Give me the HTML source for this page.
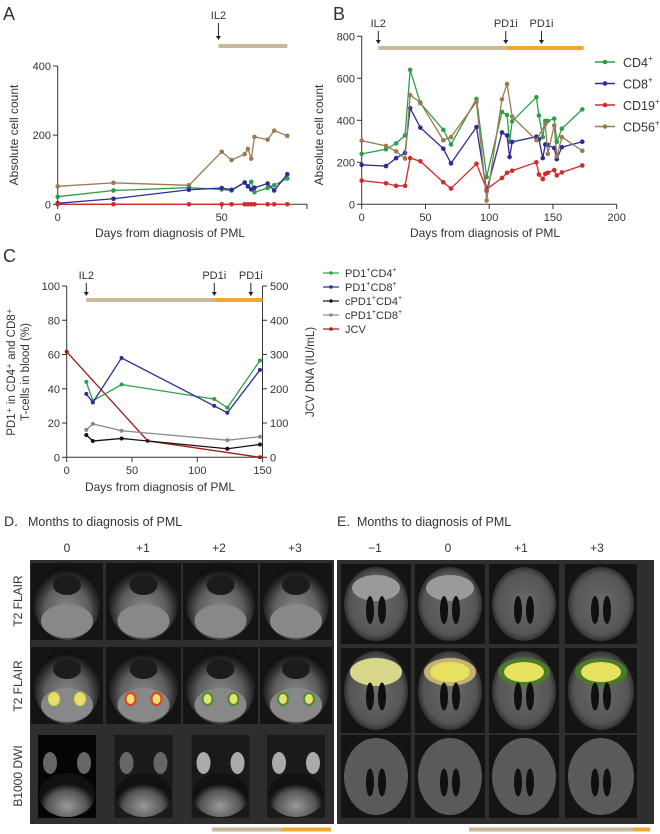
<!DOCTYPE html>
<html><head><meta charset="utf-8"><style>
body{margin:0;background:#fff;}
svg{display:block;font-family:"Liberation Sans",sans-serif;}
text{fill:#333;}
</style></head><body>
<svg id="fig" width="660" height="834" viewBox="0 0 660 834" xmlns="http://www.w3.org/2000/svg">
<defs>
<radialGradient id="brainAx" cx="50%" cy="60%" r="55%"><stop offset="0" stop-color="#8a8a8a"/><stop offset="0.6" stop-color="#5e5e5e"/><stop offset="0.85" stop-color="#2a2a2a"/><stop offset="1" stop-color="#111"/></radialGradient>
<radialGradient id="brainCor" cx="50%" cy="50%" r="55%"><stop offset="0" stop-color="#6a6a6a"/><stop offset="0.75" stop-color="#555"/><stop offset="0.9" stop-color="#333"/><stop offset="1" stop-color="#111"/></radialGradient>
<radialGradient id="dwi" cx="50%" cy="75%" r="50%"><stop offset="0" stop-color="#999"/><stop offset="0.7" stop-color="#555"/><stop offset="1" stop-color="#111"/></radialGradient>
</defs>
<g id="chartA"></g>
<g id="chartB"></g>
<g id="chartC"></g>
<g id="mri"></g>
</svg>
<script>
// ---------- Panel A data ----------
const aDays = [0,17,40,50,53,57,58,59,60,64,66,70];
const aCD4  = [22,40,48,43,40,63,52,65,35,47,55,75];
const aCD8  = [3,16,42,47,42,63,52,43,48,60,40,87];
const aCD19 = [0,0,0,0,0,0,0,0,0,0,0,0];
const aCD56 = [52,62,55,152,128,145,160,132,195,187,213,198];
const aYTicks = [0,200,400];
const aXTicks = [0,50];
// ---------- Panel B data ----------
const bDays = [0,19,27,34,38,46,64,70,90,98,110,114,116,118,137,139,142,144,146,151,153,157,173];
const bCD4  = [240,262,290,328,640,482,355,285,502,130,440,425,298,395,510,423,320,397,397,408,298,360,452];
const bCD8  = [188,182,220,245,458,365,265,195,368,65,342,328,225,297,322,310,220,285,282,268,215,272,298];
const bDays19 = [0,19,27,34,38,46,64,70,90,98,110,114,118,137,139,142,144,146,151,153,157,173];
const bCD19 = [113,100,88,88,220,205,105,75,193,72,125,150,160,200,142,120,145,150,163,138,152,185];
const bDays56 = [0,19,27,34,38,46,64,70,90,98,110,114,118,137,144,146,151,153,157,173];
const bCD56 = [303,278,252,218,520,485,305,320,488,18,500,573,418,305,382,240,375,228,320,255];
const bYTicks = [0,200,400,600,800];
const bXTicks = [0,50,100,150,200];
const bLegend = ["CD4","CD8","CD19","CD56"];
// ---------- Panel C data ----------
const cDays = [15,20,42,113,123,148];
const cPD1CD4 = [44,33,42.5,34,29,56.5];
const cPD1CD8 = [37,32,58,30,26,51];
const cDaysC = [15,20,42,123,148];
const cCPD1CD4 = [13,9.5,11,5,7.5];
const cCPD1CD8 = [16,19.5,15.5,10,12];
const cJcvDays = [0,62,148];
const cJcv = [308,48,0];
const cYTicks = [0,20,40,60,80,100];
const cY2Ticks = [0,100,200,300,400,500];
const cXTicks = [0,50,100,150];

const NS="http://www.w3.org/2000/svg";
function mk(parent,tag,attrs,txt){const e=document.createElementNS(NS,tag);for(const k in attrs)e.setAttribute(k,attrs[k]);if(txt!==undefined)e.textContent=txt;parent.appendChild(e);return e;}
const COL={g:"#2e9e48",b:"#2c2c9a",r:"#d42a2a",br:"#9a7a52",tan:"#c7b99a",or:"#f0a830",k:"#111",gr:"#8a8a8a",jc:"#a01818"};

function series(g,xs,ys,sx,sy,color,name,r){
  const pts=xs.map((d,i)=>sx(d)+","+sy(ys[i])).join(" ");
  const pl=mk(g,"polyline",{points:pts,fill:"none",stroke:color,"stroke-width":1.3});
  
  
  xs.forEach((d,i)=>{
    const c=mk(g,"circle",{cx:sx(d),cy:sy(ys[i]),r:r||2.3,fill:color});
    
    
  });
}
function arrowLabel(g,x,yText,yTip,label){
  const t=mk(g,"text",{x:x,y:yText,"font-size":11,"text-anchor":"middle"},label);
  
  
  mk(g,"line",{x1:x,y1:yText+4,x2:x,y2:yTip-3,stroke:"#222","stroke-width":1});
  mk(g,"path",{d:`M${x-2.5},${yTip-4} L${x+2.5},${yTip-4} L${x},${yTip} Z`,fill:"#222"});
}
function bar(g,x1,x2,y,color,name){
  const r=mk(g,"rect",{x:x1,y:y-2,width:x2-x1,height:4,fill:color});
  
  
}

// ---------- Panel A ----------
(function(){
  const g=document.getElementById("chartA");
  const sx=d=>57.7+d*3.28, sy=v=>204.3-v*0.3458;
  mk(g,"text",{x:3,y:20,"font-size":18},"A");
  mk(g,"line",{x1:57.7,y1:66,x2:57.7,y2:204.3,stroke:"#333"});
  mk(g,"line",{x1:57.7,y1:204.3,x2:307,y2:204.3,stroke:"#333"});
  mk(g,"line",{x1:307,y1:204.3,x2:307,y2:209,stroke:"#333"});
  aYTicks.forEach(v=>{mk(g,"line",{x1:53,y1:sy(v),x2:57.7,y2:sy(v),stroke:"#333"});
    const t=mk(g,"text",{x:51,y:sy(v)+4,"font-size":11,"text-anchor":"end"},v);});
  aXTicks.forEach(v=>{mk(g,"line",{x1:sx(v),y1:204.3,x2:sx(v),y2:209,stroke:"#333"});
    const t=mk(g,"text",{x:sx(v),y:221,"font-size":11,"text-anchor":"middle"},v);});
  const yl=mk(g,"text",{x:0,y:0,"font-size":12,"text-anchor":"middle",transform:"translate(18,135) rotate(-90)"},"Absolute cell count");
  
  const xl=mk(g,"text",{x:170,y:237,"font-size":12,"text-anchor":"middle"},"Days from diagnosis of PML");
  
  bar(g,sx(49),sx(70),46,COL.tan,"il2-bar");
  arrowLabel(g,sx(49),19,40,"IL2");
  series(g,aDays,aCD56,sx,sy,COL.br,"cd56");
  series(g,aDays,aCD4,sx,sy,COL.g,"cd4");
  series(g,aDays,aCD8,sx,sy,COL.b,"cd8");
  series(g,aDays,aCD19,sx,sy,COL.r,"cd19");
})();

// ---------- Panel B ----------
(function(){
  const g=document.getElementById("chartB");
  const sx=d=>361.7+d*1.275, sy=v=>204.3-v*0.21;
  mk(g,"text",{x:333,y:20,"font-size":18},"B");
  mk(g,"line",{x1:361.7,y1:36,x2:361.7,y2:204.3,stroke:"#333"});
  mk(g,"line",{x1:361.7,y1:204.3,x2:sx(200),y2:204.3,stroke:"#333"});
  bYTicks.forEach(v=>{mk(g,"line",{x1:357,y1:sy(v),x2:361.7,y2:sy(v),stroke:"#333"});
    const t=mk(g,"text",{x:355,y:sy(v)+4,"font-size":11,"text-anchor":"end"},v);});
  bXTicks.forEach(v=>{mk(g,"line",{x1:sx(v),y1:204.3,x2:sx(v),y2:209,stroke:"#333"});
    const t=mk(g,"text",{x:sx(v),y:221,"font-size":11,"text-anchor":"middle"},v);});
  const yl=mk(g,"text",{x:0,y:0,"font-size":12,"text-anchor":"middle",transform:"translate(323,135) rotate(-90)"},"Absolute cell count");
  
  const xl=mk(g,"text",{x:485,y:221+16,"font-size":12,"text-anchor":"middle"},"Days from diagnosis of PML");
  
  bar(g,sx(13),sx(113),48,COL.tan,"il2-bar");
  bar(g,sx(113),sx(174),48,COL.or,"pd1i-bar");
  arrowLabel(g,sx(13),27,44,"IL2");
  arrowLabel(g,sx(113),27,44,"PD1i");
  arrowLabel(g,sx(141),27,44,"PD1i");
  series(g,bDays,bCD4,sx,sy,COL.g,"cd4");
  series(g,bDays,bCD8,sx,sy,COL.b,"cd8");
  series(g,bDays19,bCD19,sx,sy,COL.r,"cd19");
  series(g,bDays56,bCD56,sx,sy,COL.br,"cd56");
  const lc=[COL.g,COL.b,COL.r,COL.br];
  bLegend.forEach((n,i)=>{
    const y=62+i*21.5;
    const lg=mk(g,"g",{});
    
    
    mk(lg,"line",{x1:595,y1:y,x2:615,y2:y,stroke:lc[i],"stroke-width":1.5});
    mk(lg,"circle",{cx:605,cy:y,r:2.3,fill:lc[i]});
    const t=mk(lg,"text",{x:623,y:y+5,"font-size":12.5},n);
    mk(t,"tspan",{"font-size":8,dy:-6},"+");
  });
})();

// ---------- Panel C ----------
(function(){
  const g=document.getElementById("chartC");
  const sx=d=>66.7+d*1.306, sy=v=>457.3-v*1.713, sy2=v=>457.3-v*0.3426;
  mk(g,"text",{x:3,y:262,"font-size":18},"C");
  mk(g,"line",{x1:66.7,y1:286,x2:66.7,y2:457.3,stroke:"#333"});
  mk(g,"line",{x1:262.5,y1:286,x2:262.5,y2:457.3,stroke:"#333"});
  mk(g,"line",{x1:66.7,y1:457.3,x2:262.5,y2:457.3,stroke:"#333"});
  cYTicks.forEach(v=>{mk(g,"line",{x1:62,y1:sy(v),x2:66.7,y2:sy(v),stroke:"#333"});
    const t=mk(g,"text",{x:60,y:sy(v)+4,"font-size":11,"text-anchor":"end"},v);});
  cY2Ticks.forEach(v=>{mk(g,"line",{x1:262.5,y1:sy2(v),x2:267,y2:sy2(v),stroke:"#333"});
    const t=mk(g,"text",{x:270,y:sy2(v)+4,"font-size":11},v);});
  cXTicks.forEach(v=>{mk(g,"line",{x1:sx(v),y1:457.3,x2:sx(v),y2:462,stroke:"#333"});
    const t=mk(g,"text",{x:sx(v),y:474,"font-size":11,"text-anchor":"middle"},v);});
  const y1=mk(g,"text",{x:0,y:0,"font-size":11.5,"text-anchor":"middle",transform:"translate(15,372) rotate(-90)"},"PD1⁺ in CD4⁺ and CD8⁺");
  
  const y1b=mk(g,"text",{x:0,y:0,"font-size":11.5,"text-anchor":"middle",transform:"translate(29,372) rotate(-90)"},"T-cells in blood (%)");
  
  const y2=mk(g,"text",{x:0,y:0,"font-size":11.5,"text-anchor":"middle",transform:"translate(314,372) rotate(-90)"},"JCV DNA (IU/mL)");
  
  const xl=mk(g,"text",{x:160,y:491,"font-size":12,"text-anchor":"middle"},"Days from diagnosis of PML");
  
  bar(g,sx(15),sx(113),300,COL.tan,"il2-bar");
  bar(g,sx(113),sx(150),300,COL.or,"pd1i-bar");
  arrowLabel(g,sx(15),279,296,"IL2");
  arrowLabel(g,sx(113),279,296,"PD1i");
  arrowLabel(g,sx(141),279,296,"PD1i");
  series(g,cJcvDays,cJcv,sx,sy2,COL.jc,"jcv",2);
  series(g,cDaysC,cCPD1CD8,sx,sy,COL.gr,"cpd1-cd8",2);
  series(g,cDaysC,cCPD1CD4,sx,sy,COL.k,"cpd1-cd4",2);
  series(g,cDays,cPD1CD4,sx,sy,COL.g,"pd1-cd4",2);
  series(g,cDays,cPD1CD8,sx,sy,COL.b,"pd1-cd8",2);
  const leg=[["PD1","CD4",COL.g],["PD1","CD8",COL.b],["cPD1","CD4",COL.k],["cPD1","CD8",COL.gr]];
  leg.forEach((e,i)=>{
    const y=273+i*14;
    const lg=mk(g,"g",{});
    
    
    mk(lg,"line",{x1:323,y1:y,x2:339,y2:y,stroke:e[2],"stroke-width":1.2});
    mk(lg,"circle",{cx:331,cy:y,r:1.7,fill:e[2]});
    const t=mk(lg,"text",{x:345,y:y+4,"font-size":11},e[0]);
    mk(t,"tspan",{"font-size":7,dy:-5},"+");
    mk(t,"tspan",{dy:5},e[1]);
    mk(t,"tspan",{"font-size":7,dy:-5},"+");
  });
  const lg=mk(g,"g",{});
  
  
  mk(lg,"line",{x1:323,y1:329,x2:339,y2:329,stroke:COL.jc,"stroke-width":1.2});
  mk(lg,"circle",{cx:331,cy:329,r:1.7,fill:COL.jc});
  mk(lg,"text",{x:345,y:333,"font-size":11},"JCV");
})();

// ---------- MRI panels ----------
(function(){
  const g=document.getElementById("mri");
  const t1=mk(g,"text",{x:4,y:526,"font-size":14},"D.");
  mk(g,"text",{x:28,y:526,"font-size":12.5},"Months to diagnosis of PML");
  const t2=mk(g,"text",{x:337,y:526,"font-size":14},"E.");
  mk(g,"text",{x:357,y:526,"font-size":12.5},"Months to diagnosis of PML");
  const dCols=["0","+1","+2","+3"], dX=[67,143,219,295];
  const eCols=["−1","0","+1","+3"], eX=[375,448,521,597];
  dCols.forEach((c,i)=>{const t=mk(g,"text",{x:dX[i],y:552,"font-size":12,"text-anchor":"middle"},c);});
  eCols.forEach((c,i)=>{const t=mk(g,"text",{x:eX[i],y:552,"font-size":12,"text-anchor":"middle"},c);});
  mk(g,"rect",{x:30,y:560,width:304,height:264,fill:"#2e2e2e"});
  mk(g,"rect",{x:337,y:560,width:317,height:264,fill:"#2e2e2e"});
  const rows=[["T2 FLAIR",601],["T2 FLAIR",686],["B1000 DWI",776]];
  rows.forEach(r=>{const t=mk(g,"text",{x:0,y:0,"font-size":12,"text-anchor":"middle",transform:`translate(22,${r[1]}) rotate(-90)`},r[0]);});
  const dx=[31,106,183,260], dw=[72,75,75,72];
  const dRowY=[563,647], dRowH=[77,77];
  dx.forEach((x,i)=>{
    for(let r=0;r<2;r++){
      const y=dRowY[r];
      const im=mk(g,"g",{});
      
      
      mk(im,"rect",{x:x,y:y,width:dw[i],height:dRowH[r],fill:"#141414"});
      mk(im,"ellipse",{cx:x+dw[i]/2,cy:y+40,rx:dw[i]/2-3,ry:37,fill:"url(#brainAx)"});
      mk(im,"ellipse",{cx:x+dw[i]/2,cy:y+58,rx:26,ry:17,fill:"#888"});
      mk(im,"ellipse",{cx:x+dw[i]/2,cy:y+22,rx:14,ry:10,fill:"#1c1c1c"});
      if(r===1){
        const cl=i===1?"#e0401c":(i>=2?"#4a8a30":"#dede50");
        mk(im,"ellipse",{cx:x+dw[i]/2-13,cy:y+52,rx:6,ry:7,fill:cl});
        mk(im,"ellipse",{cx:x+dw[i]/2+13,cy:y+52,rx:6,ry:7,fill:cl});
        mk(im,"ellipse",{cx:x+dw[i]/2-13,cy:y+52,rx:4,ry:5,fill:"#e8e070"});
        mk(im,"ellipse",{cx:x+dw[i]/2+13,cy:y+52,rx:4,ry:5,fill:"#e8e070"});
      }
    }
    const w=58, xx=x+dw[i]/2-w/2;
    const im=mk(g,"g",{});
    
    
    mk(im,"rect",{x:xx,y:735,width:w,height:83,fill:i===0?"#050505":"#1a1a1a"});
    mk(im,"ellipse",{cx:xx+w/2,cy:795,rx:28,ry:22,fill:"url(#dwi)"});
    mk(im,"ellipse",{cx:xx+12,cy:763,rx:7,ry:11,fill:i>=2?"#aaa":"#666"});
    mk(im,"ellipse",{cx:xx+w-12,cy:763,rx:7,ry:11,fill:i>=2?"#aaa":"#666"});
  });
  const ex=[341,415,489,565], ew=[70,70,70,72];
  ex.forEach((x,i)=>{
    for(let r=0;r<3;r++){
      const y=[564,648,735][r], h=[80,85,83][r];
      const im=mk(g,"g",{});
      
      
      mk(im,"rect",{x:x,y:y,width:ew[i],height:h,fill:"#141414"});
      mk(im,"ellipse",{cx:x+ew[i]/2,cy:y+h/2,rx:ew[i]/2-3,ry:h/2-3,fill:r===2?"#5a5a5a":"url(#brainCor)"});
      if(r<2 && i<2) mk(im,"ellipse",{cx:x+ew[i]/2,cy:y+24,rx:24,ry:13,fill:"#9a9a9a"});
      if(r===1){
        const cl=i===0?"#d8d68a":(i===1?"#c8b070":"#4a7a2a");
        mk(im,"ellipse",{cx:x+ew[i]/2,cy:y+24,rx:26,ry:14,fill:cl});
        if(i>=1) mk(im,"ellipse",{cx:x+ew[i]/2,cy:y+24,rx:20,ry:10,fill:"#e6e260"});
      }
      mk(im,"ellipse",{cx:x+ew[i]/2-6,cy:y+h/2+6,rx:4,ry:14,fill:"#101010"});
      mk(im,"ellipse",{cx:x+ew[i]/2+6,cy:y+h/2+6,rx:4,ry:14,fill:"#101010"});
    }
  });
  bar(g,212,282,829.5,COL.tan,"d-il2-bar");
  bar(g,282,331,829.5,COL.or,"d-pd1i-bar");
  bar(g,469,633,829.5,COL.tan,"e-il2-bar");
  bar(g,633,650,829.5,COL.or,"e-pd1i-bar");
})();
</script>
</body></html>
